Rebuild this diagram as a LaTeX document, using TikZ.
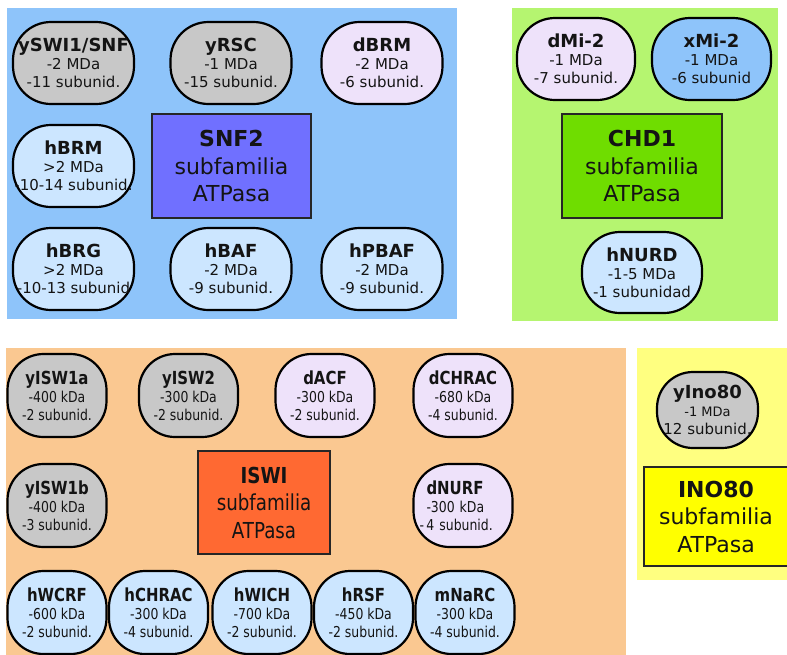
\documentclass[tikz,border=0pt]{standalone}
\usepackage{fontspec}
\setmainfont{DejaVu Sans}
\newfontfamily\nrw[FakeStretch=0.83]{DejaVu Sans}
\definecolor{pblue}{RGB}{142,196,250}
\definecolor{pgreen}{RGB}{181,245,112}
\definecolor{porange}{RGB}{250,200,145}
\definecolor{pyellow}{RGB}{255,255,128}
\definecolor{csnf}{RGB}{112,112,255}
\definecolor{cchd}{RGB}{111,221,0}
\definecolor{ciswi}{RGB}{255,105,50}
\definecolor{cino}{RGB}{255,255,0}
\definecolor{cgray}{RGB}{200,200,200}
\definecolor{clav}{RGB}{238,226,250}
\definecolor{clblue}{RGB}{204,230,255}
\definecolor{ink}{RGB}{20,20,20}
\newcommand\sml{\fontsize{15}{18}\selectfont}
\newcommand\ttl[1]{{\fontsize{18}{18}\selectfont\bfseries #1}}
\newcommand\famttl[1]{{\fontsize{22}{27.5}\selectfont\bfseries #1}}
\tikzset{
  cplx/.style={draw=black, line width=2.2pt, rounded corners=38pt,
    minimum width=121pt, minimum height=82pt, inner sep=0pt, align=center,
    font=\sml, text=ink},
  icplx/.style={cplx, minimum width=99pt, minimum height=83pt,
    rounded corners=36pt, font=\nrw\sml},
  fam/.style={draw=black!85, line width=1.8pt, inner sep=0pt, align=center,
    font=\fontsize{22}{27.5}\selectfont, text=ink},
}
\begin{document}
\begin{tikzpicture}[x=1pt,y=-1pt]
\clip (0,0) rectangle (787,654);
\fill[white] (0,0) rectangle (787,654);
% panels
\fill[pblue] (7,8) rectangle (457,319);
\fill[pgreen] (512,8) rectangle (778,321);
\fill[porange] (6,348) rectangle (626,662);
\fill[pyellow] (637,348) rectangle (800,580);
% SNF2
\node[cplx, fill=cgray] (yswi) at (73.5,63) {\ttl{ySWI1/SNF}\\-2 MDa\\-11 subunid.};
\node[cplx, fill=cgray] (yrsc) at (231,63) {\ttl{yRSC}\\-1 MDa\\-15 subunid.};
\node[cplx, fill=clav] (dbrm) at (382,63) {\ttl{dBRM}\\-2 MDa\\-6 subunid.};
\node[cplx, fill=clblue] (hbrm) at (73.5,166) {\ttl{hBRM}\\>2 MDa\\-10-14 subunid.};
\node[cplx, fill=clblue] (hbrg) at (73.5,269) {\ttl{hBRG}\\>2 MDa\\-10-13 subunid};
\node[cplx, fill=clblue] (hbaf) at (231,269) {\ttl{hBAF}\\-2 MDa\\-9 subunid.};
\node[cplx, fill=clblue] (hpbaf) at (382,269) {\ttl{hPBAF}\\-2 MDa\\-9 subunid.};
\node[fam, fill=csnf, minimum width=159pt, minimum height=104pt] (snf) at (231.5,166) {\famttl{SNF2}\\subfamilia\\ATPasa};
% CHD1
\node[cplx, fill=clav, minimum width=118pt] (dmi) at (576,59) {\ttl{dMi-2}\\-1 MDa\\-7 subunid.};
\node[cplx, fill=pblue, minimum width=119pt] (xmi) at (711.5,59) {\ttl{xMi-2}\\-1 MDa\\-6 subunid};
\node[fam, fill=cchd, minimum width=160pt, minimum height=104pt] (chd) at (642,166) {\famttl{CHD1}\\subfamilia\\ATPasa};
\node[cplx, fill=clblue, minimum width=120pt, minimum height=81pt] (hnurd) at (642,272.5) {\ttl{hNURD}\\-1-5 MDa\\-1 subunidad};
% ISWI
\node[icplx, fill=cgray] (yisw1a) at (57,395.5) {\ttl{yISW1a}\\-400 kDa\\-2 subunid.};
\node[icplx, fill=cgray] (yisw2) at (188.5,395.5) {\ttl{yISW2}\\-300 kDa\\-2 subunid.};
\node[icplx, fill=clav] (dacf) at (325,395.5) {\ttl{dACF}\\-300 kDa\\-2 subunid.};
\node[icplx, fill=clav] (dchrac) at (463,395.5) {\ttl{dCHRAC}\\-680 kDa\\-4 subunid.};
\node[icplx, fill=cgray] (yisw1b) at (57,505.5) {\ttl{yISW1b}\\-400 kDa\\-3 subunid.};
\node[icplx, fill=clav, align=left, text width=73pt, inner xsep=13pt] (dnurf) at (463,505.5) {\ttl{dNURF}\\-300 kDa\\\leavevmode\llap{-\,}4 subunid.};
\node[fam, fill=ciswi, minimum width=132pt, minimum height=103pt, font=\nrw\fontsize{22}{27.5}\selectfont] (iswi) at (264,502.5) {\famttl{ISWI}\\subfamilia\\ATPasa};
\node[icplx, fill=clblue] (hwcrf) at (57,612.5) {\ttl{hWCRF}\\-600 kDa\\-2 subunid.};
\node[icplx, fill=clblue] (hchrac) at (158.5,612.5) {\ttl{hCHRAC}\\-300 kDa\\-4 subunid.};
\node[icplx, fill=clblue] (hwich) at (262,612.5) {\ttl{hWICH}\\-700 kDa\\-2 subunid.};
\node[icplx, fill=clblue] (hrsf) at (363.5,612.5) {\ttl{hRSF}\\-450 kDa\\-2 subunid.};
\node[icplx, fill=clblue] (mnarc) at (465,612.5) {\ttl{mNaRC}\\-300 kDa\\-4 subunid.};
% INO80
\node[cplx, fill=cgray, minimum width=101pt, minimum height=76pt, rounded corners=36pt] (yino) at (707.5,410) {\ttl{yIno80}\\{\fontsize{13}{18}\selectfont -1 MDa}\\12 subunid.};
\node[fam, fill=cino, minimum width=144pt, minimum height=99pt] (ino) at (716,516.5) {\famttl{INO80}\\subfamilia\\ATPasa};
\end{tikzpicture}
\end{document}
